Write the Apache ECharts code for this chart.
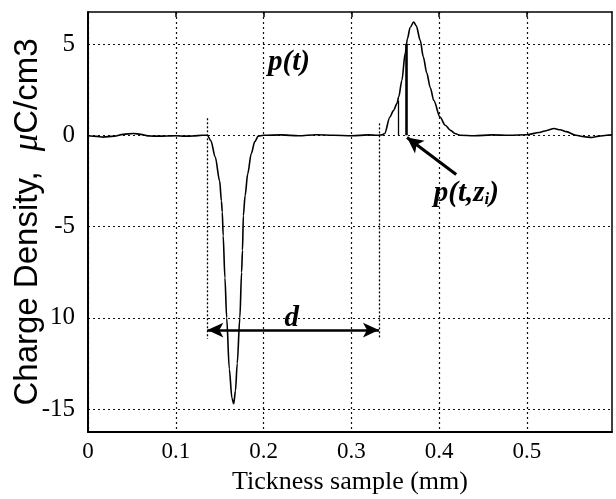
<!DOCTYPE html>
<html>
<head>
<meta charset="utf-8">
<script src="https://cdn.jsdelivr.net/npm/echarts@6/dist/echarts.min.js"></script>
<style>html,body{margin:0;padding:0;background:#fff}#c{width:616px;height:499px}</style>
</head>
<body>
<div id="c"></div>
<script>
// ---- data ----
const thickness = [0, 0.01, 0.017, 0.03, 0.04, 0.052, 0.06, 0.07, 0.08, 0.09, 0.10, 0.11, 0.12, 0.13, 0.136,
  0.140, 0.145, 0.150, 0.152, 0.153, 0.154, 0.156, 0.158, 0.161, 0.164, 0.166, 0.168, 0.170, 0.173, 0.175, 0.176, 0.177, 0.179, 0.182, 0.186, 0.190, 0.194,
  0.20, 0.22, 0.24, 0.26, 0.28, 0.30, 0.32, 0.33, 0.335,
  0.338, 0.344, 0.348, 0.352, 0.354, 0.3576, 0.3614, 0.364, 0.367, 0.371, 0.374, 0.3785, 0.382, 0.386, 0.390, 0.394, 0.401, 0.407, 0.413, 0.418, 0.424,
  0.44, 0.46, 0.48, 0.50, 0.514, 0.522, 0.531, 0.538, 0.545, 0.556, 0.565, 0.574, 0.582, 0.591, 0.597];
const density = [-0.03, -0.06, -0.1, -0.05, 0.05, 0.1, 0.05, -0.04, -0.05, -0.04, -0.03, -0.05, -0.04, 0, 0,
  -0.3, -1.2, -2.5, -3.6, -4.2, -5.5, -7.8, -10, -12.8, -14.4, -14.7, -14.0, -12.5, -10, -7.5, -6.3, -4.4, -3.3, -2.1, -1.0, -0.35, -0.05,
  0, 0.02, -0.03, 0.03, 0, -0.03, 0.02, 0, 0.02,
  0.1, 1.0, 1.35, 1.74, 2.1, 3.0, 4.5, 5.3, 5.9, 6.2, 6.0, 5.2, 4.3, 3.4, 2.6, 1.9, 1.0, 0.55, 0.27, 0.1, 0,
  -0.03, 0.02, 0, 0.03, 0.15, 0.25, 0.37, 0.3, 0.2, 0, -0.08, -0.12, -0.05, 0, 0.02];

const xTicks = [0, 0.1, 0.2, 0.3, 0.4, 0.5];
const xTickLabels = ['0', '0.1', '0.2', '0.3', '0.4', '0.5'];
const yTicks = [5, 0, -5, -10, -15];
const yTickLabels = ['5', '0', '-5', '10', '-15'];

// annotation values (data units)
const markerX = [0.136, 0.3315];
const markerTop = [0.93, 0.65];
const markerBottom = -11.15;
const dArrowY = -10.67;
const thickLine = [0.3626, 5.0];
const thinLine = [0.354, 1.9];
const pointerFrom = [0.4195, -2.15];
const pointerTo = [0.3635, -0.12];
const labelPt = [0.229, 4.0];
const labelPtz = [0.431, -3.2];
const labelD = [0.232, -10.05];

const curve = thickness.map((t, i) => [t, density[i]]);

const chart = echarts.init(document.getElementById('c'), null, {renderer: 'canvas'});
const serif = '"Liberation Serif", "Times New Roman", serif';
const sans = '"Liberation Sans", Arial, sans-serif';
const grid = {left: 88, right: 4, top: 12, bottom: 67, outerBoundsMode: 'none', containLabel: false};
const gridLine = {show: true, lineStyle: {color: '#111', width: 1.2, type: [2, 3]}};

const option = {
  backgroundColor: '#fff',
  animation: false,
  grid: grid,
  xAxis: [{
    type: 'value', min: 0, max: 0.597,
    axisLine: {show: true, onZero: false, lineStyle: {color: '#000', width: 2}},
    axisTick: {show: false, customValues: xTicks},
    axisLabel: {customValues: xTicks, color: '#000', fontFamily: serif, fontSize: 23, margin: 8,
      formatter: v => xTickLabels[xTicks.findIndex(t => Math.abs(t - v) < 1e-9)] ?? ''},
    splitLine: gridLine,
    name: 'Tickness sample (mm)', nameLocation: 'middle', nameGap: 37, nameMoveOverlap: false,
    nameTextStyle: {color: '#000', fontFamily: serif, fontSize: 26}
  }, {
    type: 'value', min: 0, max: 0.597, position: 'top',
    axisLine: {show: true, onZero: false, lineStyle: {color: '#000', width: 1.5}},
    axisTick: {show: true, inside: true, length: 5, customValues: xTicks, lineStyle: {color: '#000', width: 1.5}},
    axisLabel: {show: false}, splitLine: {show: false}
  }],
  yAxis: [{
    type: 'value', min: -16.25, max: 6.75,
    axisLine: {show: true, onZero: false, lineStyle: {color: '#000', width: 2}},
    axisTick: {show: false, customValues: yTicks},
    axisLabel: {customValues: yTicks, color: '#000', fontFamily: serif, fontSize: 25, margin: 13,
      formatter: v => yTickLabels[yTicks.indexOf(v)] ?? ''},
    splitLine: gridLine,
    name: '{s|Charge Density,}      {m|μ}{s|C/cm3}', nameLocation: 'middle', nameGap: 43, nameMoveOverlap: false,
    nameTextStyle: {rich: {
      s: {fontFamily: sans, fontSize: 33, color: '#000'},
      m: {fontFamily: serif, fontStyle: 'italic', fontSize: 35, color: '#000'}
    }}
  }, {
    type: 'value', min: -16.25, max: 6.75, position: 'right',
    axisLine: {show: true, onZero: false, lineStyle: {color: '#000', width: 1.5}},
    axisTick: {show: false}, axisLabel: {show: false}, splitLine: {show: false}
  }],
  series: [{
    type: 'line', data: curve, showSymbol: false, symbol: 'none',
    smooth: 0.3, smoothMonotone: 'x',
    lineStyle: {color: '#000', width: 1.6},
    z: 5,
    markLine: {
      silent: true, symbol: 'none', animation: false,
      label: {show: false},
      data: [
        [{coord: [markerX[0], markerTop[0]], lineStyle: {color: '#000', width: 1.3, type: [2, 2]}}, {coord: [markerX[0], markerBottom]}],
        [{coord: [markerX[1], markerTop[1]], lineStyle: {color: '#000', width: 1.3, type: [2, 2]}}, {coord: [markerX[1], markerBottom]}],
        [{coord: [markerX[0], dArrowY], symbol: 'arrow', symbolSize: [11, 16], lineStyle: {color: '#000', width: 2.5, type: 'solid'}},
         {coord: [markerX[1], dArrowY], symbol: 'arrow', symbolSize: [11, 16]}],
        [{coord: [thickLine[0], thickLine[1]], lineStyle: {color: '#000', width: 2.6, type: 'solid'}}, {coord: [thickLine[0], 0]}],
        [{coord: [thinLine[0], thinLine[1]], lineStyle: {color: '#000', width: 1.3, type: 'solid'}}, {coord: [thinLine[0], 0]}],
        [{coord: pointerFrom, symbol: 'none', lineStyle: {color: '#000', width: 3, type: 'solid'}},
         {coord: pointerTo, symbol: 'arrow', symbolSize: [12, 16]}]
      ]
    }
  }, {
    type: 'scatter', symbol: 'circle', symbolSize: 0, itemStyle: {color: '#000'}, z: 6, silent: true,
    data: [
      {value: labelPt, label: {formatter: '{a|p(t)}'}},
      {value: labelPtz, label: {formatter: '{a|p(t,z}{s|i}{a|)}'}},
      {value: labelD, label: {formatter: '{a|d}'}}
    ],
    label: {show: true, position: 'inside', color: '#000', opacity: 1,
      rich: {
        a: {fontFamily: serif, fontStyle: 'italic', fontWeight: 'bold', fontSize: 29, color: '#000'},
        s: {fontFamily: serif, fontStyle: 'italic', fontWeight: 'bold', fontSize: 17, color: '#000', verticalAlign: 'bottom', padding: [12, 0, 0, 0]}
      }
    }
  }]
};
chart.setOption(option);
</script>
</body>
</html>
